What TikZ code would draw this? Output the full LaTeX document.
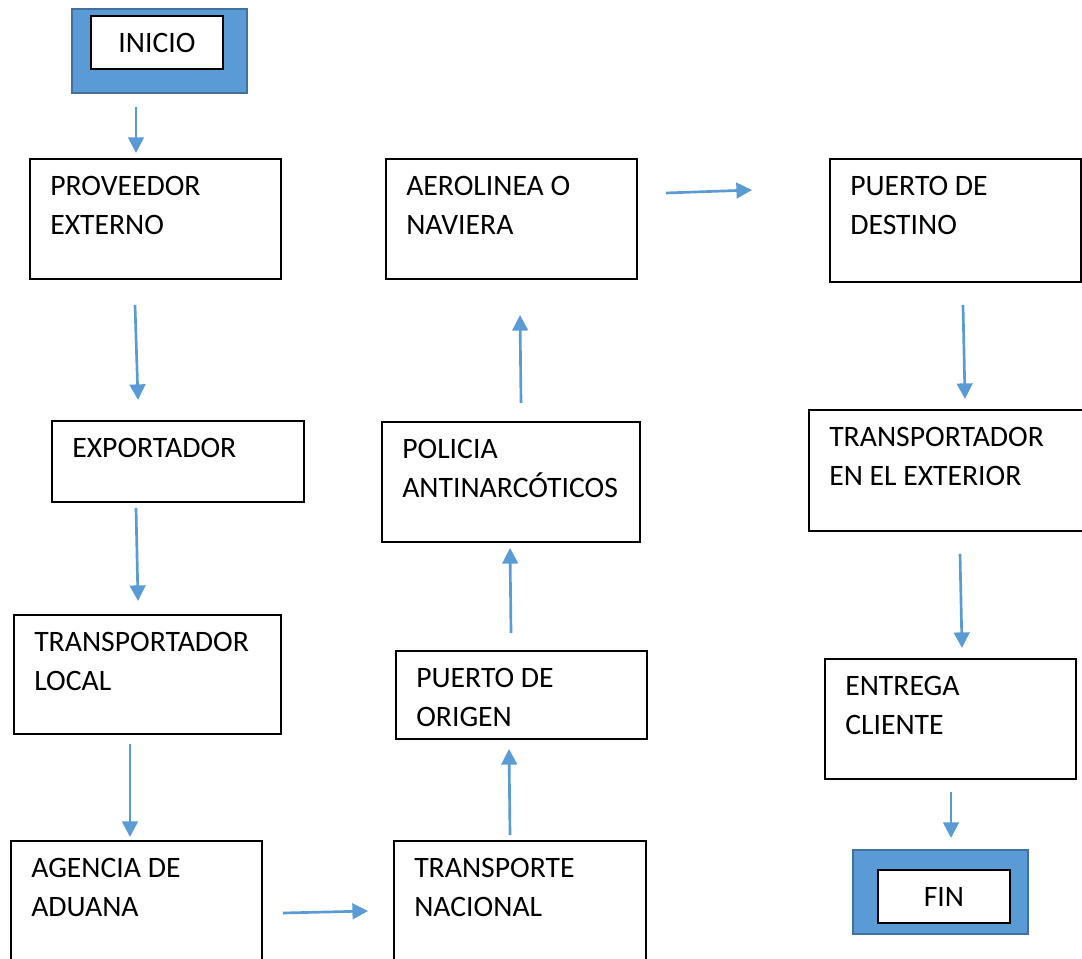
\documentclass[tikz,border=0pt]{standalone}
\usepackage{fontspec}
\setmainfont{Carlito}
\usetikzlibrary{arrows.meta,calc}

\definecolor{azul}{HTML}{5B9BD5}
\definecolor{azulborde}{HTML}{41719C}
\def\pxu{0.025cm}

\tikzset{
  caja/.style 2 args={draw=black, line width=1.4pt, anchor=north west,
    inner sep=0pt, minimum width=#1*\pxu, minimum height=#2*\pxu},
  txt/.style={anchor=north west, inner sep=0pt, align=left,
    xshift=21*\pxu, yshift=-18*\pxu},
  marco/.style={caja={175}{84}, fill=azul, draw=azulborde, line width=1.2pt},
  dentro/.style={caja={132}{53}, fill=white},
  flecha/.style={azul, line width=1.9pt,
    -{Triangle[length=0.39cm, width=0.39cm]}}
}

\begin{document}
\begin{tikzpicture}[x=\pxu, y=-\pxu,
    every node/.style={font=\fontsize{21.1}{27.7}\selectfont}]

  \useasboundingbox (0,0) rectangle (1082,958);

  % inicio y fin
  \node[marco] (ini) at (71,8) {};
  \node[dentro] (iniT) at (90,15) {INICIO\hspace{0.4em}};
  \node[marco] (fin) at (852,849) {};
  \node[dentro] (finT) at (877,869) {FIN\hspace{0.4em}};

  % primera columna
  \node[caja={251}{120}, label={[txt]north west:PROVEEDOR\\EXTERNO}] (prov) at (29,158) {};
  \node[caja={252}{81}, label={[txt]north west:EXPORTADOR}] (expo) at (51,420) {};
  \node[caja={267}{119}, label={[txt]north west:TRANSPORTADOR\\LOCAL}] (tloc) at (13,614) {};
  \node[caja={251}{140}, label={[txt]north west:AGENCIA DE\\ADUANA}] (adu) at (10,840) {};

  % segunda columna
  \node[caja={252}{140}, label={[txt]north west:TRANSPORTE\\NACIONAL}] (tnac) at (393,840) {};
  \node[caja={251}{88}, label={[txt]north west:PUERTO DE\\ORIGEN}] (porig) at (395,650) {};
  \node[caja={258}{120}, label={[txt]north west:POLICIA\\ANTINARCÓTICOS}] (poli) at (381,421) {};
  \node[caja={251}{120}, label={[txt]north west:AEROLINEA O\\NAVIERA}] (aero) at (385,158) {};

  % tercera columna
  \node[caja={251}{123}, label={[txt]north west:PUERTO DE\\DESTINO}] (pdest) at (829,158) {};
  \node[caja={280}{121}, label={[txt]north west:TRANSPORTADOR\\EN EL EXTERIOR}] (text) at (808,409) {};
  \node[caja={251}{120}, label={[txt]north west:ENTREGA\\CLIENTE}] (entr) at (824,658) {};

  % flechas
  \draw[flecha] ($(ini.south west)+(65,13)$) -- ($(prov.north west)+(107,-5)$);
  \draw[flecha] ($(prov.south west)+(106,25)$) -- ($(expo.north west)+(87,-20)$);
  \draw[flecha] ($(expo.south west)+(85,5)$) -- ($(tloc.north west)+(125,-13)$);
  \draw[flecha] ($(tloc.south west)+(117,9)$) -- ($(adu.north west)+(120,-3)$);
  \draw[flecha] ($(adu.north east)+(20,73)$) -- ($(tnac.north west)+(-25,71)$);
  \draw[flecha] ($(tnac.north west)+(117,-5)$) -- ($(porig.south west)+(114,9)$);
  \draw[flecha] ($(porig.north west)+(116,-17)$) -- ($(poli.south west)+(129,5)$);
  \draw[flecha] ($(poli.north west)+(140,-18)$) -- ($(aero.south west)+(135,35)$);
  \draw[flecha] ($(aero.north east)+(28,35)$) -- ($(pdest.north west)+(-77,32)$);
  \draw[flecha] ($(pdest.south west)+(134,22)$) -- ($(text.north west)+(157,-10)$);
  \draw[flecha] ($(text.south west)+(152,22)$) -- ($(entr.north west)+(138,-10)$);
  \draw[flecha] ($(entr.south west)+(127,12)$) -- ($(fin.north west)+(99,-11)$);

\end{tikzpicture}
\end{document}
